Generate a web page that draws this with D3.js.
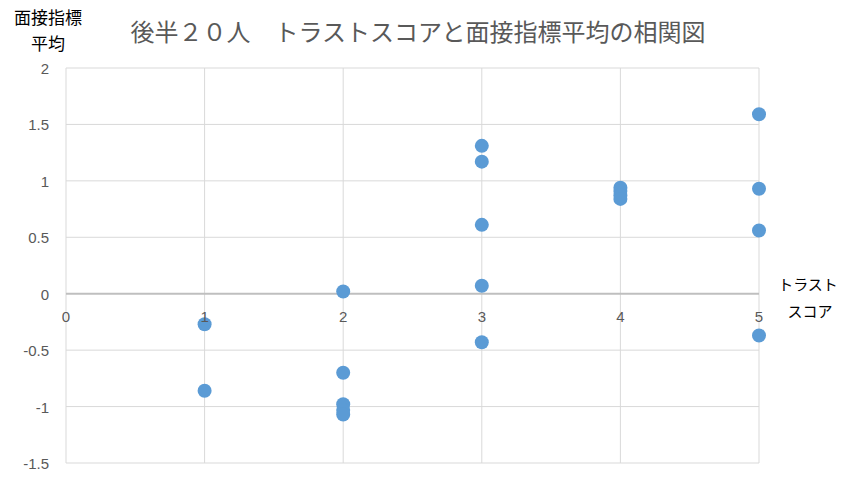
<!DOCTYPE html>
<html>
<head>
<meta charset="utf-8">
<script src="https://cdn.jsdelivr.net/npm/d3@7"></script>
<style>
  body { margin: 0; background: #fff; }
  text { font-family: "Noto Sans CJK JP", "Liberation Sans", sans-serif; }
  .num { font-family: "Liberation Sans", "DejaVu Sans", sans-serif; }
</style>
</head>
<body>
<svg id="chart" width="847" height="478"></svg>
<script>
// trust score (x) and interview index average (y)
const trust_scores = [1, 1, 2, 2, 2, 2, 2, 3, 3, 3, 3, 3, 4, 4, 4, 4, 5, 5, 5, 5];
const interview_avgs = [-0.27, -0.86, 0.02, -0.70, -0.98, -1.03, -1.07,
  1.31, 1.17, 0.61, 0.07, -0.43, 0.94, 0.91, 0.87, 0.84, 1.59, 0.93, 0.56, -0.37];
const x_ticks = [0, 1, 2, 3, 4, 5];
const y_ticks = [2, 1.5, 1, 0.5, 0, -0.5, -1, -1.5];

const svg = d3.select("#chart");
const x = d3.scaleLinear().domain([0, 5]).range([66, 759]);
const y = d3.scaleLinear().domain([-1.5, 2]).range([463, 68]);

// grid
svg.append("g").selectAll("line").data(y_ticks.filter(d => d !== 0)).join("line")
  .attr("x1", x(0)).attr("x2", x(5))
  .attr("y1", d => y(d)).attr("y2", d => y(d))
  .style("stroke", "#d9d9d9").style("stroke-width", 1);
svg.append("g").selectAll("line").data(x_ticks).join("line")
  .attr("x1", d => x(d)).attr("x2", d => x(d))
  .attr("y1", y(2)).attr("y2", y(-1.5))
  .style("stroke", "#d9d9d9").style("stroke-width", 1);

// zero axis
svg.append("line")
  .attr("x1", x(0)).attr("x2", x(5))
  .attr("y1", y(0)).attr("y2", y(0))
  .style("stroke", "#bfbfbf").style("stroke-width", 2);

// points
svg.append("g").selectAll("circle").data(trust_scores).join("circle")
  .attr("cx", d => x(d))
  .attr("cy", (d, i) => y(interview_avgs[i]))
  .attr("r", 7)
  .style("fill", "#5b9bd5");

// tick labels (drawn over the points, like the original)
svg.append("g").selectAll("text").data(y_ticks).join("text")
  .attr("class", "num")
  .attr("x", 49).attr("y", d => y(d) + 6)
  .attr("text-anchor", "end")
  .style("font-size", "15px").style("fill", "#595959")
  .text(d => d);
svg.append("g").selectAll("text").data(x_ticks).join("text")
  .attr("class", "num")
  .attr("x", d => x(d)).attr("y", y(0) + 28)
  .attr("text-anchor", "middle")
  .style("font-size", "15px").style("fill", "#595959")
  .text(d => d);

// titles
svg.append("text").attr("x", 418).attr("y", 41)
  .attr("text-anchor", "middle")
  .style("font-size", "24px").style("fill", "#595959")
  .text("後半２０人　トラストスコアと面接指標平均の相関図");
svg.append("text").attr("x", 48).attr("y", 24)
  .attr("text-anchor", "middle").style("font-size", "17px").style("fill", "#000")
  .text("面接指標");
svg.append("text").attr("x", 48).attr("y", 50)
  .attr("text-anchor", "middle").style("font-size", "17px").style("fill", "#000")
  .text("平均");
svg.append("text").attr("x", 808).attr("y", 290)
  .attr("text-anchor", "middle").style("font-size", "15px").style("fill", "#000")
  .text("トラスト");
svg.append("text").attr("x", 810).attr("y", 317)
  .attr("text-anchor", "middle").style("font-size", "15px").style("fill", "#000")
  .text("スコア");
</script>
</body>
</html>
